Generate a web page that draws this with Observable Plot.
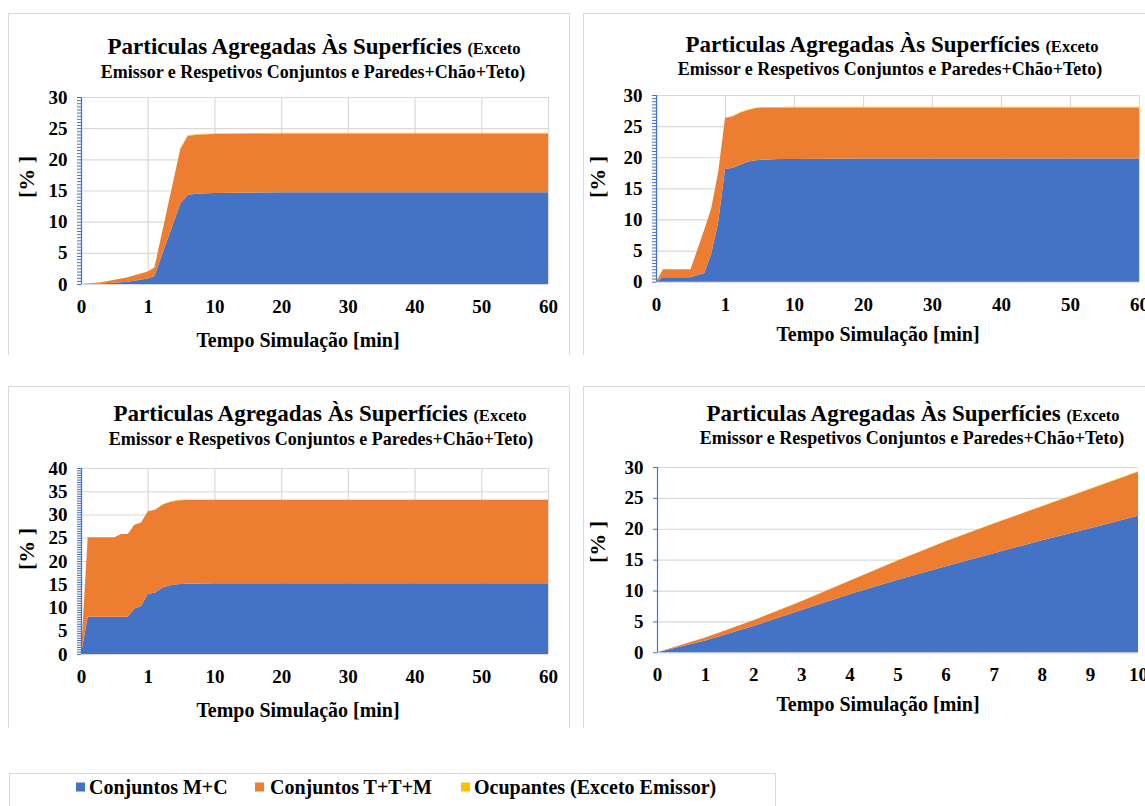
<!DOCTYPE html>
<html><head><meta charset="utf-8">
<script src="https://cdn.jsdelivr.net/npm/d3@7"></script>
<script src="https://cdn.jsdelivr.net/npm/@observablehq/plot@0.6"></script>
<style>
html,body{margin:0;padding:0;background:#fff;}
#page{position:relative;width:1145px;height:806px;overflow:hidden;background:#fff;font-family:"Liberation Serif","Times New Roman",serif;font-weight:bold;color:#000;}
.box{position:absolute;border:1px solid #d9d9d9;border-bottom:none;box-sizing:border-box;}
.t{position:absolute;white-space:nowrap;line-height:1;transform:translate(-50%,-50%);}
.xt{position:absolute;white-space:nowrap;line-height:1;transform:translate(-50%,-50%) scaleX(0.95);}
.yt{position:absolute;white-space:nowrap;line-height:1;transform:translate(-50%,-50%) rotate(-90deg);}
.plotwrap{position:absolute;}
.plotwrap svg{max-width:none !important;}
.leg{position:absolute;white-space:nowrap;line-height:1;font-size:20px;transform:translateY(-50%);}
.sw{position:absolute;width:9px;height:9px;transform:translateY(-50%);}
</style></head><body><div id="page"></div>
<script>
// ---------- data ----------
const seriesNames = ["Conjuntos M+C", "Conjuntos T+T+M", "Ocupantes (Exceto Emissor)"];
const seriesColors = ["#4472C4", "#ED7D31", "#FFC000"];

const titleMain = "Particulas Agregadas Às Superfícies";
const titleSmall = "(Exceto";
const titleLine2 = "Emissor e Respetivos Conjuntos e Paredes+Chão+Teto)";
const xTitle = "Tempo Simulação [min]";
const yTitle = "[% ]";

const xBreaks60 = [0, 1, 10, 20, 30, 40, 50, 60];
const xTicks10 = [0, 1, 2, 3, 4, 5, 6, 7, 8, 9, 10];

// Panel 1 (top-left)
const p1Time = [0, 0.3, 0.7, 1, 1.9, 5.4, 6.4, 8, 10, 20, 30, 40, 50, 60];
const p1MC   = [0, 0.1, 0.35, 0.9, 1.3, 12.9, 14.3, 14.5, 14.6, 14.7, 14.7, 14.7, 14.7, 14.7];
const p1TTM  = [0, 0.2, 0.75, 1.1, 1.35, 8.8, 9.5, 9.5, 9.45, 9.4, 9.4, 9.4, 9.4, 9.4];
const p1Occ  = [0, 0, 0, 0, 0, 0.05, 0.05, 0.08, 0.1, 0.15, 0.15, 0.15, 0.15, 0.15];

// Panel 2 (top-right)
const p2Time = [0, 0.1, 0.5, 0.7, 0.8, 0.9, 1, 2, 3, 4, 5, 6, 8, 10, 20, 30, 40, 50, 60];
const p2MC   = [0, 0.7, 0.7, 1.4, 4.5, 9.5, 18.1, 18.3, 18.8, 19.3, 19.5, 19.6, 19.7, 19.7, 19.8, 19.8, 19.8, 19.8, 19.8];
const p2TTM  = [0, 1.3, 1.3, 7.0, 7.3, 8.0, 8.2, 8.3, 8.4, 8.3, 8.4, 8.4, 8.3, 8.3, 8.2, 8.2, 8.2, 8.2, 8.2];
const p2Occ  = [0, 0, 0, 0, 0, 0, 0.02, 0.03, 0.05, 0.05, 0.05, 0.06, 0.08, 0.1, 0.12, 0.12, 0.12, 0.12, 0.12];

// Panel 3 (bottom-left)
const p3Time = [0, 0.1, 0.5, 0.6, 0.7, 0.8, 0.9, 1, 2, 3, 4, 5, 6, 10, 20, 30, 40, 50, 60];
const p3MC   = [0, 8.0, 8.0, 8.0, 8.0, 9.8, 10.3, 12.9, 13.2, 14.3, 14.8, 15.0, 15.1, 15.2, 15.2, 15.2, 15.2, 15.2, 15.2];
const p3TTM  = [0, 17.1, 17.1, 17.8, 17.8, 18.0, 18.0, 17.8, 17.8, 17.85, 17.9, 18.0, 18.0, 17.9, 17.9, 17.9, 17.9, 17.9, 17.9];
const p3Occ  = [0, 0, 0, 0, 0, 0, 0, 0, 0.02, 0.05, 0.08, 0.1, 0.1, 0.12, 0.12, 0.12, 0.12, 0.12, 0.12];

// Panel 4 (bottom-right)
const p4Time = [0, 1, 2, 3, 4, 5, 6, 7, 8, 9, 10];
const p4MC   = [0, 1.9, 4.25, 6.85, 9.4, 11.75, 13.95, 16.05, 18.15, 20.1, 22.1];
const p4TTM  = [0, 0.49, 0.94, 1.43, 2.18, 3.12, 4.02, 4.81, 5.51, 6.35, 7.15];
const p4Occ  = [0, 0.01, 0.01, 0.02, 0.02, 0.03, 0.03, 0.04, 0.04, 0.05, 0.05];

// ---------- layout ----------
const page = document.getElementById("page");
const axisBlue = "#4472C4";
const gridGray = "#d9d9d9";
const fontFam = "'Liberation Serif', 'Times New Roman', serif";

function addEl(cls, text, x, y, style) {
  const d = document.createElement("div");
  d.className = cls;
  if (text != null) d.textContent = text;
  d.style.left = x + "px";
  d.style.top = y + "px";
  Object.assign(d.style, style || {});
  page.appendChild(d);
  return d;
}

const panels = [
  {box: [8, 13, 562, 342], area: [81, 548, 97, 284], yMax: 30, time: p1Time, mc: p1MC, ttm: p1TTM, occ: p1Occ,
   xTicks: xBreaks60, piecewise: true, minor: true, gridX: true,
   t1: [314, 45.5], t2: [313, 72], xt: [298, 339.5], yt: [27, 177]},
  {box: [583, 13, 600, 342], area: [656, 1139, 95, 281.7], yMax: 30, time: p2Time, mc: p2MC, ttm: p2TTM, occ: p2Occ,
   xTicks: xBreaks60, piecewise: true, minor: true, gridX: true,
   t1: [892, 43.5], t2: [890, 68.5], xt: [878, 333.5], yt: [598, 177]},
  {box: [8, 386, 562, 342], area: [81, 548, 468, 654], yMax: 40, time: p3Time, mc: p3MC, ttm: p3TTM, occ: p3Occ,
   xTicks: xBreaks60, piecewise: true, minor: true, gridX: true,
   t1: [320, 413], t2: [321, 438.5], xt: [298, 709.5], yt: [27, 549]},
  {box: [583, 386, 600, 342], area: [657, 1138, 467, 652.3], yMax: 30, time: p4Time, mc: p4MC, ttm: p4TTM, occ: p4Occ,
   xTicks: xTicks10, piecewise: false, minor: false, gridX: false,
   t1: [913, 413], t2: [912, 438], xt: [878, 703.5], yt: [598, 542]}
];

function drawPanel(p) {
  const [bx, by, bw, bh] = p.box;
  addEl("box", null, bx, by, {width: bw + "px", height: bh + "px"});

  const [x0, x1, y0, y1] = p.area;
  const ml = 60, mr = 22, mt = 12, mb = 42;
  const pw = x1 - x0, ph = y1 - y0;
  const W = pw + ml + mr, H = ph + mt + mb;

  const rows = [];
  [p.mc, p.ttm, p.occ].forEach((vals, k) => {
    p.time.forEach((t, i) => rows.push({t, v: vals[i], s: seriesNames[k]}));
  });

  const xScale = p.piecewise
    ? {type: "linear", domain: p.xTicks, range: p.xTicks.map((_, i) => ml + i * pw / (p.xTicks.length - 1))}
    : {type: "linear", domain: [p.xTicks[0], p.xTicks[p.xTicks.length - 1]]};

  const yMajor = d3.range(0, p.yMax + 0.001, 5);
  const yMinor = d3.range(0, p.yMax + 0.001, 0.5);

  const marks = [Plot.gridY({ticks: yMajor, stroke: gridGray, strokeOpacity: 1, strokeWidth: 1.2})];
  if (p.gridX) marks.push(Plot.gridX({ticks: p.xTicks, stroke: gridGray, strokeOpacity: 1, strokeWidth: 1.2}));
  marks.push(Plot.areaY(rows, {x: "t", y: "v", fill: "s", order: seriesNames, curve: "linear"}));
  marks.push(Plot.ruleX([p.xTicks[0]], {stroke: axisBlue, strokeWidth: 1.2}));
  marks.push(Plot.axisY({ticks: p.minor ? yMinor : yMajor, tickSize: 4, stroke: axisBlue, strokeOpacity: 1, tickFormat: () => "", label: null}));
  marks.push(Plot.axisY({ticks: yMajor, tickSize: 0, tickPadding: 14, fontSize: 19, fontWeight: "bold", fontFamily: fontFam, label: null}));
  marks.push(Plot.axisX({ticks: p.xTicks, tickSize: 0, tickPadding: 15, fontSize: 19, fontWeight: "bold", fontFamily: fontFam, label: null, tickFormat: d => String(d)}));

  const svg = Plot.plot({
    width: W, height: H,
    marginLeft: ml, marginRight: mr, marginTop: mt, marginBottom: mb,
    x: xScale,
    y: {domain: [0, p.yMax], label: null},
    color: {domain: seriesNames, range: seriesColors},
    style: {fontFamily: fontFam, fontSize: "19px", fontWeight: "bold", color: "#000", background: "transparent", overflow: "visible", maxWidth: "none"},
    marks
  });
  const wrap = addEl("plotwrap", null, x0 - ml, y0 - mt, {width: W + "px", height: H + "px"});
  wrap.appendChild(svg);

  // titles
  const t1 = addEl("t", null, p.t1[0], p.t1[1], {fontSize: "23px"});
  t1.innerHTML = titleMain + ' <span style="font-size:16.5px">' + titleSmall + '</span>';
  addEl("t", titleLine2, p.t2[0], p.t2[1], {fontSize: "18px"});
  addEl("xt", xTitle, p.xt[0], p.xt[1], {fontSize: "21px"});
  addEl("yt", yTitle, p.yt[0], p.yt[1], {fontSize: "22px"});
}

panels.forEach(drawPanel);

// legend
addEl("box", null, 9, 773, {width: "767px", height: "60px"});
const legX = [[76, 89], [255, 270], [461, 474]];
seriesNames.forEach((s, i) => {
  addEl("sw", null, legX[i][0], 787, {background: seriesColors[i]});
  addEl("leg", s, legX[i][1], 787);
});
</script></body></html>
